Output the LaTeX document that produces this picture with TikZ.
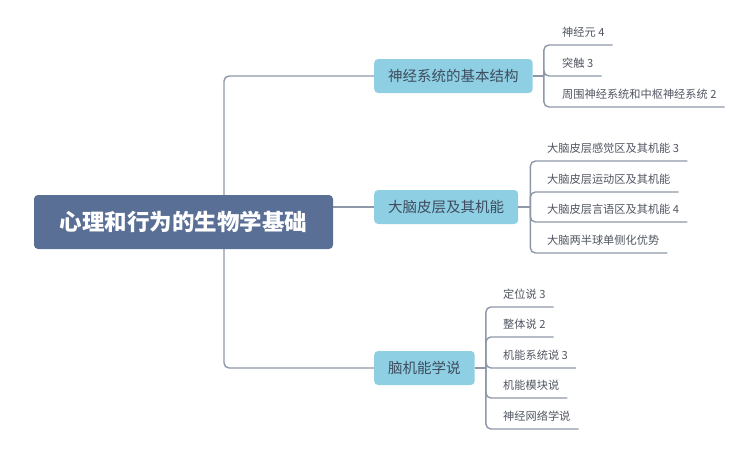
\documentclass[tikz,border=0pt]{standalone}
\usepackage{fontspec}
\setmainfont{Noto Sans CJK SC}
\usetikzlibrary{positioning}
\definecolor{rootblue}{HTML}{5A6F96}
\definecolor{subblue}{HTML}{8ECFE3}
\definecolor{linegray}{HTML}{8E98A8}
\definecolor{subtext}{HTML}{3E4C5E}
\definecolor{leaftext}{HTML}{505560}
\tikzset{
  rootbox/.style={draw=none,fill=rootblue,rounded corners=4pt,text=white,font=\fontsize{22.5}{26}\selectfont\bfseries,minimum width=299pt,minimum height=54pt},
  subbox/.style={draw=none,fill=subblue,rounded corners=4pt,text=subtext,font=\fontsize{14.5}{17}\selectfont,inner xsep=14pt,minimum height=34pt,anchor=west},
  leaf/.style={anchor=south west,inner xsep=8pt,inner ysep=7pt,text height=9.5pt,text depth=1.5pt,text=leaftext,font=\fontsize{11.2}{13}\selectfont},
  link/.style={draw=linegray,line width=1.4pt,rounded corners=5pt}
}
\begin{document}
\begin{tikzpicture}[x=1pt,y=-1pt]
    \useasboundingbox (0,0) rectangle (739,450);
    % main branches
    \node (c1) at (374,76) [subbox] {神经系统的基本结构};
    \node (c2) at (374,207) [subbox] {大脑皮层及其机能};
    \node (c3) at (374,368) [subbox] {脑机能学说};
    \coordinate (trunk) at (224,222);
    \draw [link] (trunk) |- (c1.west);
    \draw [link] (trunk) |- (c3.west);
    \draw [link] (c2.west) -- (c2.west -| trunk);
    \node (root) at (183.5,222) [rootbox] {心理和行为的生物学基础};
    % leaves of c1
    \foreach \t/\y [count=\i] in {神经元 4/45, 突触 3/76, 周围神经系统和中枢神经系统 2/107}
    {
    \node (a\i) at (554,\y) [leaf] {\t};
    \draw [link] (c1.east) -- ++(11,0) coordinate (ka\i);
    \draw [link] (ka\i) |- (a\i.south east);
    }
    % leaves of c2
    \foreach \t/\y [count=\i] in {大脑皮层感觉区及其机能 3/161, 大脑皮层运动区及其机能/192, 大脑皮层言语区及其机能 4/222, 大脑两半球单侧化优势/253}
    {
    \node (b\i) at (539,\y) [leaf] {\t};
    \draw [link] (c2.east) -- ++(12,0) coordinate (kb\i);
    \draw [link] (kb\i) |- (b\i.south east);
    }
    % leaves of c3
    \foreach \t/\y [count=\i] in {定位说 3/307, 整体说 2/337, 机能系统说 3/368, 机能模块说/398, 神经网络学说/429}
    {
    \node (d\i) at (495,\y) [leaf] {\t};
    \draw [link] (c3.east) -- ++(11,0) coordinate (kd\i);
    \draw [link] (kd\i) |- (d\i.south east);
    }
\end{tikzpicture}
\end{document}
